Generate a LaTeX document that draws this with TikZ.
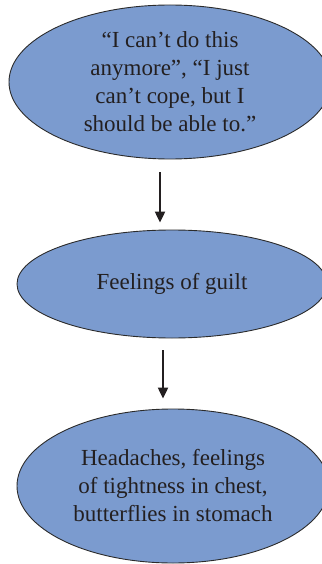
\documentclass[tikz,border=0pt]{standalone}
\usepackage{fontspec}
\setmainfont{Liberation Serif}
\usetikzlibrary{shapes.geometric,arrows.meta}
\definecolor{bubblefill}{HTML}{7B9BCF}
\definecolor{bubbleline}{HTML}{2B2B2B}
\definecolor{inktext}{HTML}{231F20}
\tikzset{
  bubble/.style={ellipse, draw=bubbleline, line width=0.9pt, fill=bubblefill,
    inner sep=0pt, align=center, text=inktext,
    font=\fontsize{23}{28}\selectfont},
  flowarrow/.style={draw=inktext, line width=2.2pt,
    -{Triangle[length=11pt,width=10pt]}}
}
\begin{document}
\begin{tikzpicture}[x=1pt,y=1pt]
  \useasboundingbox (0,0) rectangle (321,-564);
  \node[bubble, minimum width=322pt, minimum height=154pt] (thought) at (170,-82)
    {“I can’t do this\\anymore”, “I just\\can’t cope, but I\\should be able to.”};
  \node[bubble, minimum width=310pt, minimum height=108pt] (guilt) at (172,-284)
    {Feelings of guilt};
  \node[bubble, minimum width=312pt, minimum height=154pt] (body) at (173,-486)
    {Headaches, feelings\\of tightness in chest,\\butterflies in stomach};
  \draw[flowarrow] ([xshift=-10pt,yshift=-13pt]thought.south) -- ([xshift=-12pt,yshift=7pt]guilt.north);
  \draw[flowarrow] ([xshift=-9pt,yshift=-12pt]guilt.south) -- ([xshift=-10pt,yshift=10pt]body.north);
\end{tikzpicture}
\end{document}
